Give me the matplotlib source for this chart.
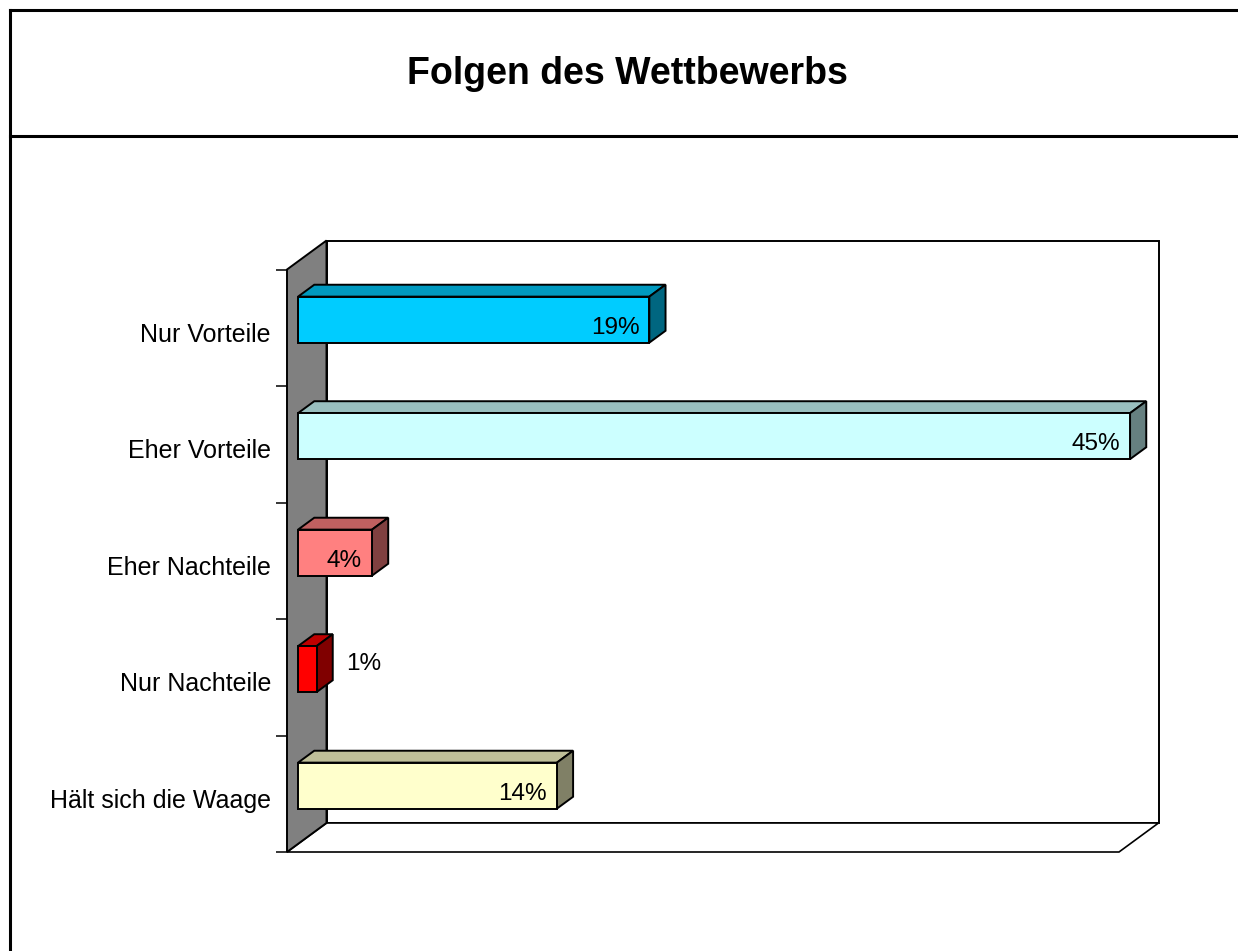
import numpy as np
import matplotlib
matplotlib.use('Agg')
import matplotlib.pyplot as plt
from matplotlib.patches import Polygon
from matplotlib.transforms import offset_copy

plt.rcParams['font.family'] = ['Liberation Sans', 'DejaVu Sans']

# data
categories = ['Nur Vorteile', 'Eher Vorteile', 'Eher Nachteile', 'Nur Nachteile', 'Hält sich die Waage']
values = [19, 45, 4, 1, 14]
value_labels = ['19%', '45%', '4%', '1%', '14%']

front_cols = ['#00CCFF', '#CCFFFF', '#FF8080', '#FF0000', '#FFFFCC']
top_cols = ['#0099BF', '#99BFBF', '#BF6060', '#BF0000', '#BFBF99']
side_cols = ['#006680', '#668080', '#804040', '#800000', '#808066']

W, H = 1238, 951
fig = plt.figure(figsize=(W / 100, H / 100), dpi=100)
fig.patch.set_facecolor('white')

# front plane of the 3d box (pixels)
ax = fig.add_axes([287 / W, (H - 852) / H, 832 / W, 582.5 / H])
xmax = 45
ax.set_xlim(0, xmax)
ax.set_ylim(len(categories) - 0.5, -0.5)
ax.patch.set_visible(False)
for s in ax.spines.values():
    s.set_visible(False)
ax.set_xticks([])
ax.set_yticks(np.arange(-0.5, len(categories), 1.0))
ax.set_yticklabels([])
ax.tick_params(axis='y', length=8, width=1.1, color='black', direction='out')

# depth vector (full depth) in pixels -> data units
DX, DY = 39.5, 29.0
p0 = ax.transData.transform((0, 0))
d = ax.transData.inverted().transform((p0[0] + DX, p0[1] + DY))
dvec = np.array(d)


def shift(pts, f):
    return [(x + f * dvec[0], y + f * dvec[1]) for x, y in pts]


def poly(pts, fc, z, lw=1.4):
    p = Polygon(pts, closed=True, facecolor=fc, edgecolor='black', linewidth=lw,
                joinstyle='miter', clip_on=False, zorder=z)
    ax.add_patch(p)


top, bot = -0.5, len(categories) - 0.5
# back wall
poly(shift([(0, top), (xmax, top), (xmax, bot), (0, bot)], 1), 'white', 1)
# floor
poly([(0, bot), (xmax, bot)] + shift([(xmax, bot), (0, bot)], 1), 'white', 1.5, lw=1.2)
# left wall
poly([(0, top)] + shift([(0, top), (0, bot)], 1) + [(0, bot)], '#808080', 2)

# bars
fb, bb = 0.28, 0.69
h = 0.395
for i, v in enumerate(values):
    y0, y1 = i - h / 2, i + h / 2
    front = shift([(0, y0), (v, y0), (v, y1), (0, y1)], fb)
    topf = shift([(0, y0), (v, y0)], fb) + shift([(v, y0), (0, y0)], bb)
    side = shift([(v, y0), (v, y1)], fb) + shift([(v, y1), (v, y0)], bb)
    z = 3 + i * 0.1
    poly(topf, top_cols[i], z)
    poly(side, side_cols[i], z)
    poly(front, front_cols[i], z + 0.05)

    cx, cy = shift([(v, i)], fb)[0]
    if v >= 3:
        tr = offset_copy(ax.transData, fig=fig, x=-10, y=-14, units='dots')
        ax.text(cx, cy, value_labels[i], transform=tr, ha='right', va='baseline',
                fontsize=17.5, zorder=10)
    else:
        tr = offset_copy(ax.transData, fig=fig, x=30, y=-1, units='dots')
        ax.text(cx, cy, value_labels[i], transform=tr, ha='left', va='baseline',
                fontsize=17.5, zorder=10)

# category labels
trl = offset_copy(ax.transData, fig=fig, x=-16, y=-14, units='dots')
for i, c in enumerate(categories):
    ax.text(0, i, c, transform=trl, ha='right', va='baseline', fontsize=18)

# title and frame
fig.text(627.5 / W, 1 - 83.5 / H, 'Folgen des Wettbewerbs', ha='center', va='baseline',
         fontsize=27, fontweight='bold')
for xs, ys in [([9.5 / W, 1], [1 - 9.5 / H, 1 - 9.5 / H]),
               ([9.5 / W, 9.5 / W], [1 - 9.5 / H, 0]),
               ([9.5 / W, 1], [1 - 135.5 / H, 1 - 135.5 / H])]:
    fig.add_artist(plt.Line2D(xs, ys, color='black', lw=2.2, solid_capstyle='projecting',
                              transform=fig.transFigure))

fig.savefig('out.png', dpi=100)
